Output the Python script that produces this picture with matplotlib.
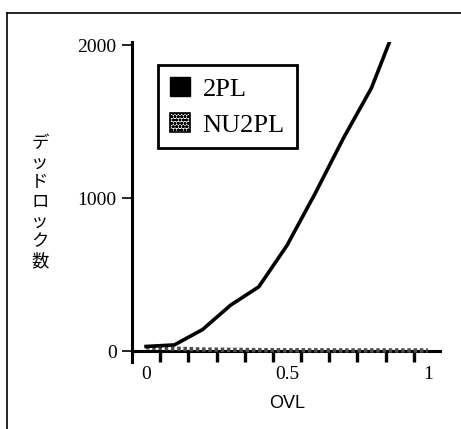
import matplotlib
matplotlib.use("Agg")
import matplotlib.pyplot as plt
from matplotlib.patches import Patch
from matplotlib.lines import Line2D
from matplotlib.ticker import FixedLocator

# Data
ovl_2pl = [0.0, 0.1, 0.2, 0.3, 0.4, 0.5, 0.6, 0.7, 0.8, 0.9]
deadlocks_2pl = [30, 40, 140, 300, 420, 690, 1030, 1390, 1720, 2190]
ovl_nu2pl = [0.0, 0.1, 0.2, 0.3, 0.4, 0.5, 0.6, 0.7, 0.8, 0.9, 1.0]
deadlocks_nu2pl = [25, 15, 10, 8, 6, 5, 5, 4, 4, 4, 4]

series_names = ["2PL", "NU2PL"]
x_ticks = [0, 0.5, 1]
x_tick_labels = ["0", "0.5", "1"]
y_ticks = [0, 1000, 2000]
y_label = "デッドロック数"
x_label = "OVL"

serif = "Liberation Serif"

fig = plt.figure(figsize=(4.61, 4.29), dpi=100)
ax = fig.add_axes([0.2863, 0.156, 0.668, 0.746])

ax.plot(ovl_nu2pl, deadlocks_nu2pl, color="0.3", lw=3.2,
        linestyle=(0, (0.8, 0.6)), solid_capstyle="butt", zorder=3)
ax.plot(ovl_2pl, deadlocks_2pl, color="black", lw=2.6, zorder=4)

ax.set_xlim(-0.05, 1.043)
ax.set_ylim(-72, 2020)

# spines
ax.spines["top"].set_visible(False)
ax.spines["right"].set_visible(False)
ax.spines["bottom"].set_position(("data", 0))
ax.spines["bottom"].set_linewidth(2.2)
ax.spines["left"].set_linewidth(2.2)

# x ticks: labels at values, tick marks between them
ax.set_xticks(x_ticks)
ax.set_xticklabels(x_tick_labels, fontfamily=serif, fontsize=14)
ax.xaxis.set_minor_locator(FixedLocator([0.05 + 0.1 * i for i in range(10)]))
ax.tick_params(axis="x", which="major", length=0, pad=11)
ax.tick_params(axis="x", which="minor", direction="out", length=8, width=2.4)

ax.set_yticks(y_ticks)
ax.set_yticklabels([str(v) for v in y_ticks], fontfamily=serif, fontsize=14)
ax.tick_params(axis="y", direction="out", length=7, width=1.2, pad=4)

fig.text(287 / 461, 1 - 403 / 429, x_label, ha="center", va="center",
         fontfamily="Liberation Sans", fontsize=13)
fig.text(40 / 461, 1 - 202 / 429, "\n".join(y_label), ha="center", va="center",
         fontfamily=["Noto Sans CJK JP", "DejaVu Sans"], fontsize=12.5,
         linespacing=1.12)

# legend with square patches
handles = [
    Patch(facecolor="black", edgecolor="black"),
    Patch(facecolor="white", edgecolor="black", hatch="ooooo", lw=1.2),
]
leg = ax.legend(handles, series_names, loc="upper left",
                bbox_to_anchor=(0.084, 0.928), borderaxespad=0,
                prop={"family": serif, "size": 19}, handlelength=0.75,
                handleheight=0.75, handletextpad=0.5, labelspacing=0.45,
                borderpad=0.45, fancybox=False, framealpha=1)
leg.get_frame().set_edgecolor("black")
leg.get_frame().set_linewidth(2)

# outer frame of the scanned figure
fig.add_artist(Line2D([7 / 461, 7 / 461], [0, 1 - 13 / 429], color="black",
                      lw=1.2, transform=fig.transFigure))
fig.add_artist(Line2D([7 / 461, 1], [1 - 13 / 429, 1 - 13 / 429], color="black",
                      lw=1.2, transform=fig.transFigure))

fig.savefig("out.png", dpi=100)
